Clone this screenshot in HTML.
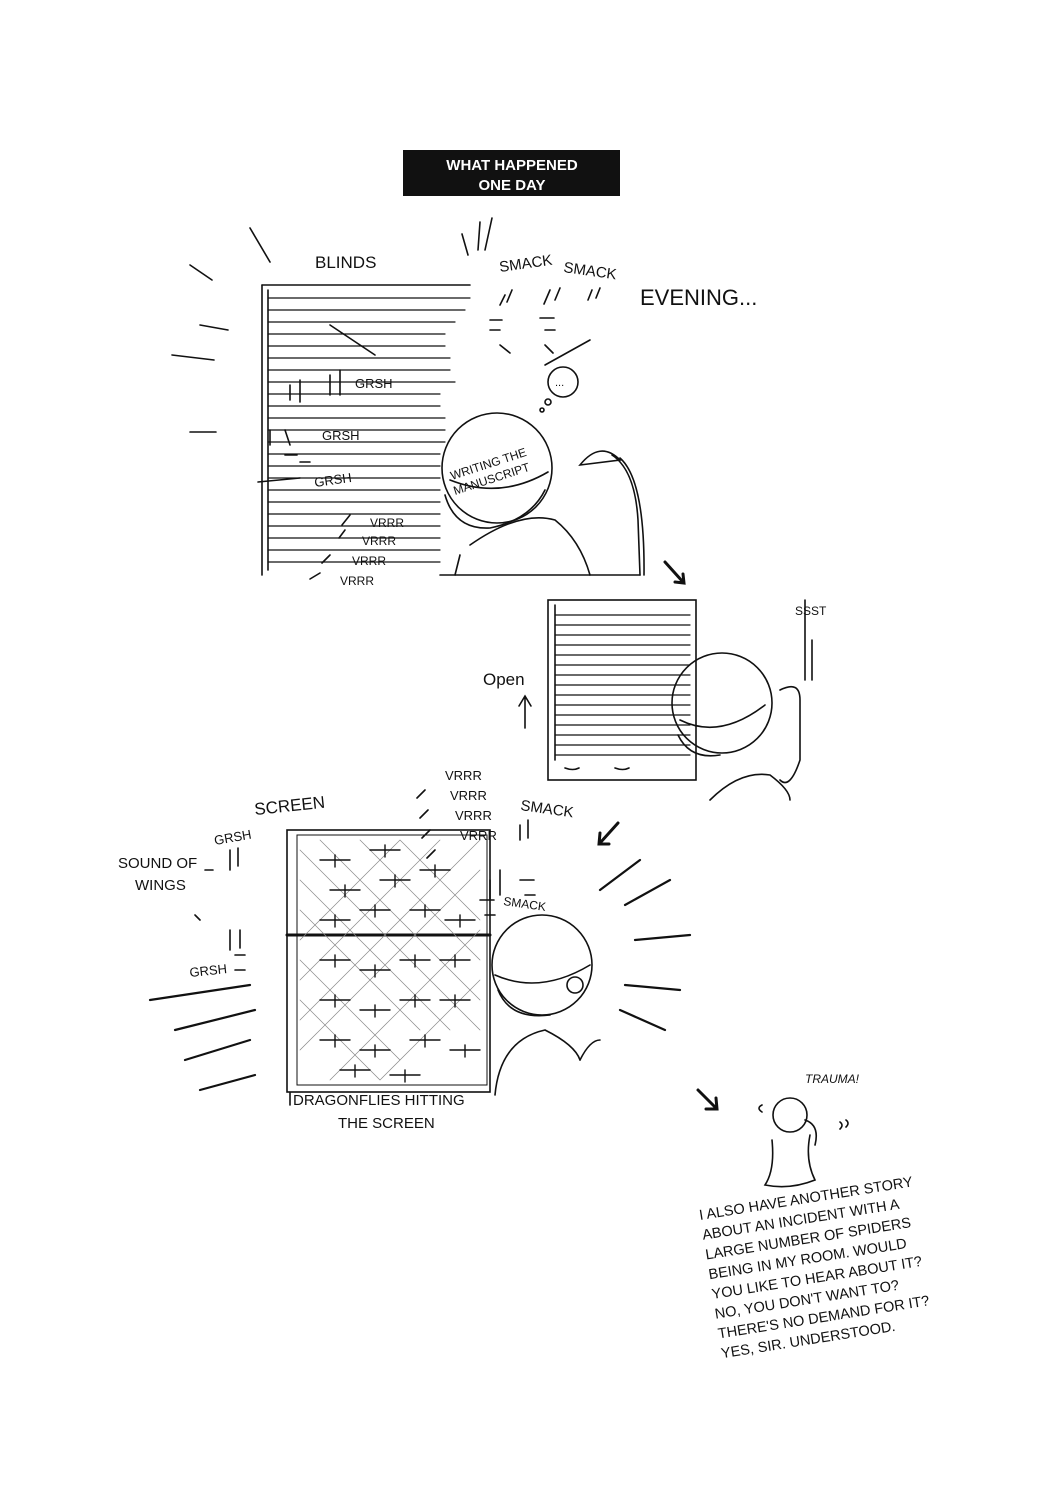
<!DOCTYPE html>
<html><head><meta charset="utf-8"><style>
html,body{margin:0;padding:0;background:#fff;}
svg{display:block;}
text{font-family:"Liberation Sans",sans-serif;fill:#111;}
</style></head><body>
<svg width="1056" height="1503" viewBox="0 0 1056 1503" xmlns="http://www.w3.org/2000/svg">
<rect width="1056" height="1503" fill="#fff"/>
<rect x="403" y="150" width="217" height="46" fill="#111"/>
<text x="512" y="170" text-anchor="middle" font-size="15" style="fill:#fff" font-weight="bold">WHAT HAPPENED</text>
<text x="512" y="190" text-anchor="middle" font-size="15" style="fill:#fff" font-weight="bold">ONE DAY</text>

<g stroke="#111" stroke-width="1.6" fill="none" stroke-linecap="round">
<line x1="250" y1="228" x2="270" y2="262"/>
<line x1="190" y1="265" x2="212" y2="280"/>
<line x1="200" y1="325" x2="228" y2="330"/>
<line x1="172" y1="355" x2="214" y2="360"/>
<line x1="190" y1="432" x2="216" y2="432"/>
<line x1="462" y1="234" x2="468" y2="255"/>
<line x1="480" y1="222" x2="478" y2="250"/>
<line x1="492" y1="218" x2="485" y2="250"/>
<line x1="545" y1="365" x2="590" y2="340"/>
<line x1="262" y1="285" x2="262" y2="575"/>
<line x1="268" y1="290" x2="268" y2="570"/>
<line x1="262" y1="285" x2="470" y2="285"/>
<g stroke-width="1.2">
<path d="M268 298H470M268 310H465M268 322H455M268 334H445M268 346H445M268 358H450M268 370H450M268 382H455M268 394H440M268 406H440M268 418H445M268 430H445M268 442H445M268 454H440M268 466H440M268 478H440M268 490H440M268 502H440M268 514H440M268 526H440M268 538H440M268 550H440M268 562H440"/>
</g>
<line x1="330" y1="325" x2="375" y2="355"/>
<line x1="258" y1="482" x2="300" y2="478"/>
<line x1="440" y1="575" x2="640" y2="575"/>
<circle cx="497" cy="468" r="55"/>
<path d="M450 480 Q500 500 548 472"/>
<path d="M445 495 Q455 530 490 528 Q530 520 545 490"/>
<path d="M470 545 Q520 510 555 520 Q580 540 590 575"/>
<path d="M455 575 L460 555"/>
<path d="M580 465 Q600 440 620 460 Z"/>
<path d="M612 455 Q635 470 638 520 L640 575"/>
<path d="M620 458 Q645 480 644 575"/>
<circle cx="563" cy="382" r="15"/>
<circle cx="548" cy="402" r="3"/>
<circle cx="542" cy="410" r="2"/>
<path d="M505 295l-5 10M512 290l-5 12M550 290l-6 14M560 288l-5 12M592 290l-4 10M600 288l-4 10"/>
<path d="M490 320h12M490 330h10M540 318h14M545 330h10M500 345l10 8M545 345l8 8"/>
<path d="M290 385v15M300 380v22M285 430l5 15M330 375v20M340 370v25M270 430v15M285 455h12M300 462h10"/>
<path d="M350 515l-8 10M345 530l-6 8M330 555l-8 8M320 573l-10 6"/>
<path d="M665 562 L683 582 M675 582 L684 583 L683 574" stroke-width="3"/>
<path d="M618 823 L600 843 M600 833 L599 844 L609 844" stroke-width="3"/>
<path d="M698 1090 L716 1108 M706 1109 L717 1109 L716 1098" stroke-width="3"/>
<rect x="548" y="600" width="148" height="180"/>
<line x1="555" y1="605" x2="555" y2="760"/>
<g stroke-width="1.2">
<path d="M555 615H690M555 625H690M555 635H690M555 645H690M555 655H690M555 665H690M555 675H690M555 685H690M555 695H690M555 705H690M555 715H690M555 725H690M555 735H690M555 745H690M555 755H690"/>
</g>
<path d="M565 768q8 3 14 0M615 768q8 3 14 0"/>
<circle cx="722" cy="703" r="50"/>
<path d="M680 720 Q720 740 765 705"/>
<path d="M678 735 Q690 760 720 755"/>
<path d="M710 800 Q740 770 770 775 Q790 790 790 800"/>
<path d="M780 690 Q800 680 800 700 L800 760 Q790 790 780 780"/>
<line x1="805" y1="600" x2="805" y2="680"/>
<line x1="812" y1="640" x2="812" y2="680"/>
<path d="M525 728 V698 M519 706 L525 696 L531 706"/>
<rect x="287" y="830" width="203" height="262"/>
<rect x="297" y="835" width="190" height="250" stroke-width="1"/>
<line x1="287" y1="935" x2="490" y2="935" stroke-width="3"/>
<g stroke="#888" stroke-width="0.7">
<path d="M300 850L480 1030M300 880L450 1030M300 910L420 1030M300 960L400 1060M300 1000L380 1080M320 840L480 1000M360 840L480 960M400 840L480 920M300 1050L480 870M300 1020L480 840M300 980L440 840M300 940L400 840M330 1080L480 930M380 1080L480 980"/>
</g>
<g stroke-width="1.4">
<path d="M320 860h30M335 855v12M370 850h30M385 845v12M330 890h30M345 885v12M380 880h30M395 875v12M420 870h30M435 865v12M320 920h30M335 915v12M360 910h30M375 905v12M410 910h30M425 905v12M445 920h30M460 915v12M320 960h30M335 955v12M360 970h30M375 965v12M400 960h30M415 955v12M440 960h30M455 955v12M320 1000h30M335 995v12M360 1010h30M375 1005v12M400 1000h30M415 995v12M440 1000h30M455 995v12M320 1040h30M335 1035v12M360 1050h30M375 1045v12M410 1040h30M425 1035v12M450 1050h30M465 1045v12M340 1070h30M355 1065v12M390 1075h30M405 1070v12"/>
</g>
<circle cx="542" cy="965" r="50"/>
<path d="M495 975 Q540 995 590 965"/>
<path d="M498 990 Q510 1020 550 1015"/>
<circle cx="575" cy="985" r="8"/>
<path d="M495 1095 Q500 1040 545 1030 Q575 1045 580 1060"/>
<path d="M580 1060 Q590 1040 600 1040"/>
<g stroke-width="2.2">
<path d="M150 1000L250 985M175 1030L255 1010M185 1060L250 1040M200 1090L255 1075M640 860L600 890M670 880L625 905M690 935L635 940M680 990L625 985M665 1030L620 1010"/>
</g>
<path d="M205 870h8M195 915l5 5M230 850v20M238 848v18M230 930v20M240 930v18M235 955h10M235 970h10M425 790l-8 8M428 810l-8 8M430 830l-8 8M435 850l-8 8M490 880v20M500 870v25M520 880h14M525 895h10M520 825v15M528 820v18M480 900h14M485 915h10M290 1105v-12"/>
<circle cx="790" cy="1115" r="17"/>
<path d="M772 1140 Q775 1170 765 1185 Q790 1190 815 1180 Q805 1160 810 1135"/>
<path d="M805 1120 Q820 1125 815 1145"/>
<path d="M840 1122q4 3 0 7M846 1120q4 3 0 7M762 1105q-6 3 0 7"/>
</g>

<text x="315" y="268" font-size="17">BLINDS</text>
<text x="500" y="272" font-size="15" transform="rotate(-8 500 272)">SMACK</text>
<text x="563" y="272" font-size="15" transform="rotate(8 563 272)">SMACK</text>
<text x="640" y="305" font-size="22">EVENING...</text>
<text x="555" y="386" font-size="11">...</text>
<text x="355" y="388" font-size="13">GRSH</text>
<text x="322" y="440" font-size="13">GRSH</text>
<text x="315" y="487" font-size="13" transform="rotate(-8 315 487)">GRSH</text>
<text x="370" y="527" font-size="12">VRRR</text>
<text x="362" y="545" font-size="12">VRRR</text>
<text x="352" y="565" font-size="12">VRRR</text>
<text x="340" y="585" font-size="12">VRRR</text>
<text x="452" y="480" font-size="12" transform="rotate(-18 452 480)">WRITING THE</text>
<text x="455" y="495" font-size="12" transform="rotate(-18 455 495)">MANUSCRIPT</text>
<text x="483" y="685" font-size="17">Open</text>
<text x="795" y="615" font-size="12">SSST</text>
<text x="255" y="815" font-size="17" transform="rotate(-6 255 815)">SCREEN</text>
<text x="215" y="845" font-size="13" transform="rotate(-10 215 845)">GRSH</text>
<text x="118" y="868" font-size="15">SOUND OF</text>
<text x="135" y="890" font-size="15">WINGS</text>
<text x="190" y="977" font-size="13" transform="rotate(-6 190 977)">GRSH</text>
<text x="445" y="780" font-size="13">VRRR</text>
<text x="450" y="800" font-size="13">VRRR</text>
<text x="455" y="820" font-size="13">VRRR</text>
<text x="460" y="840" font-size="13">VRRR</text>
<text x="520" y="810" font-size="15" transform="rotate(8 520 810)">SMACK</text>
<text x="503" y="905" font-size="12" transform="rotate(8 503 905)">SMACK</text>
<text x="293" y="1105" font-size="15">DRAGONFLIES HITTING</text>
<text x="338" y="1128" font-size="15">THE SCREEN</text>
<text x="805" y="1083" font-size="12" font-style="italic">TRAUMA!</text>
<g transform="rotate(-9 700 1220)" font-size="14.5">
<text x="700" y="1220">I ALSO HAVE ANOTHER STORY</text>
<text x="700" y="1240">ABOUT AN INCIDENT WITH A</text>
<text x="700" y="1260">LARGE NUMBER OF SPIDERS</text>
<text x="700" y="1280">BEING IN MY ROOM. WOULD</text>
<text x="700" y="1300">YOU LIKE TO HEAR ABOUT IT?</text>
<text x="700" y="1320">NO, YOU DON'T WANT TO?</text>
<text x="700" y="1340">THERE'S NO DEMAND FOR IT?</text>
<text x="700" y="1360">YES, SIR. UNDERSTOOD.</text>
</g>
</svg>
</body></html>
